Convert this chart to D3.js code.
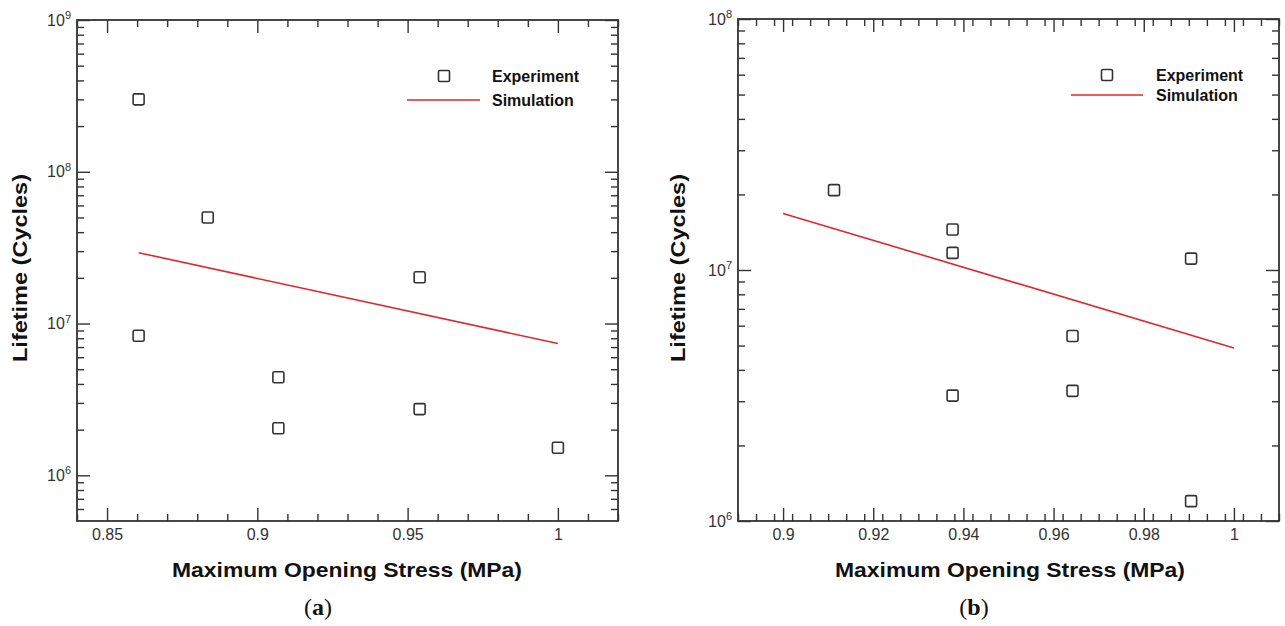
<!DOCTYPE html>
<html lang="en">
<head>
    <meta charset="UTF-8">
    <title>Lifetime vs Maximum Opening Stress</title>
    <script src="https://d3js.org/d3.v7.min.js"></script>
    <style>
        body { margin: 0; background: #fff; }
        svg { font-family: "Liberation Sans", Arial, sans-serif; }
        .axis-title { font-size: 21px; font-weight: bold; fill: #111; }
        .legend-text { font-size: 16px; font-weight: bold; fill: #111; }
        .caption { font-family: "Liberation Serif", "DejaVu Serif", serif; font-size: 24px; fill: #111; }
    </style>
</head>
<body>
<div id="chart"></div>
<script>
    // Panel (a)
    const stressA = [0.8605, 0.8605, 0.8835, 0.907, 0.907, 0.954, 0.954, 1.0];
    const lifeA = [3.0e8, 8.3e6, 5.0e7, 4.43e6, 2.04e6, 2.02e7, 2.73e6, 1.52e6];
    const simStressA = [0.8605, 1.0];
    const simLifeA = [2.93e7, 7.38e6];
    const xTicksA = [0.85, 0.9, 0.95, 1];

    // Panel (b)
    const stressB = [0.9113, 0.9376, 0.9376, 0.9376, 0.9642, 0.9642, 0.9905, 0.9905];
    const lifeB = [2.08e7, 1.45e7, 1.17e7, 3.16e6, 5.46e6, 3.30e6, 1.11e7, 1.20e6];
    const simStressB = [0.9, 1.0];
    const simLifeB = [1.68e7, 4.89e6];
    const xTicksB = [0.9, 0.92, 0.94, 0.96, 0.98, 1];

    const width = 1285, height = 626;
    const svg = d3.select("#chart").append("svg")
        .attr("width", width)
        .attr("height", height);

    const frameColor = "#333";
    const simColor = "#e3262b";

    function supLabel(sel) {
        sel.each(function(d) {
            const t = d3.select(this);
            t.text(null);
            t.append("tspan").text("10");
            t.append("tspan")
                .attr("dy", "-0.6em")
                .attr("font-size", 11)
                .text(Math.round(Math.log10(d)));
        });
    }

    function drawPanel(cfg) {
        const x = d3.scaleLinear().domain(cfg.xDomain).range([cfg.left, cfg.right]);
        const y = d3.scaleLog().domain(cfg.yDomain).range([cfg.bottom, cfg.top]);
        const g = svg.append("g");

        // minor tick values
        const yMinor = [];
        for (let e = 5; e <= 9; e++) {
            for (let k = 2; k <= 9; k++) {
                const v = k * Math.pow(10, e);
                if (v > cfg.yDomain[0] && v < cfg.yDomain[1]) yMinor.push(v);
            }
        }
        const yMajor = [1e5, 1e6, 1e7, 1e8, 1e9].filter(v => v >= cfg.yDomain[0] && v <= cfg.yDomain[1]);
        const xMinor = d3.range(cfg.xDomain[0], cfg.xDomain[1] + 1e-9, cfg.xMinorStep)
            .filter(v => !cfg.xTicks.some(t => Math.abs(t - v) < 1e-6));

        // bottom and top axes
        g.append("g").attr("transform", `translate(0,${cfg.bottom})`)
            .call(d3.axisBottom(x).tickValues(xMinor).tickSize(-7).tickFormat(""));
        g.append("g").attr("transform", `translate(0,${cfg.bottom})`)
            .call(d3.axisBottom(x).tickValues(cfg.xTicks).tickSize(-13).tickPadding(8).tickFormat(d3.format("")));
        g.append("g").attr("transform", `translate(0,${cfg.top})`)
            .call(d3.axisTop(x).tickValues(xMinor).tickSize(-7).tickFormat(""));
        g.append("g").attr("transform", `translate(0,${cfg.top})`)
            .call(d3.axisTop(x).tickValues(cfg.xTicks).tickSize(-13).tickFormat(""));

        // left and right axes
        g.append("g").attr("transform", `translate(${cfg.left},0)`)
            .call(d3.axisLeft(y).tickValues(yMinor).tickSize(-7).tickFormat(""));
        g.append("g").attr("transform", `translate(${cfg.left},0)`)
            .call(d3.axisLeft(y).tickValues(yMajor).tickSize(-13).tickPadding(6))
            .selectAll(".tick text").call(supLabel);
        g.append("g").attr("transform", `translate(${cfg.right},0)`)
            .call(d3.axisRight(y).tickValues(yMinor).tickSize(-7).tickFormat(""));
        g.append("g").attr("transform", `translate(${cfg.right},0)`)
            .call(d3.axisRight(y).tickValues(yMajor).tickSize(-13).tickFormat(""));

        g.selectAll(".domain").remove();
        g.selectAll(".tick line").attr("stroke", frameColor).attr("stroke-width", 1.4);
        g.selectAll("g[font-size]")
            .attr("font-size", 16)
            .attr("font-family", "'Liberation Sans', Arial, sans-serif");
        g.selectAll(".tick text").attr("fill", "#333");

        // frame
        g.append("rect")
            .attr("x", cfg.left).attr("y", cfg.top)
            .attr("width", cfg.right - cfg.left).attr("height", cfg.bottom - cfg.top)
            .attr("fill", "none").attr("stroke", frameColor).attr("stroke-width", 1.8);

        // simulation line
        const line = d3.line().x(d => x(d[0])).y(d => y(d[1]));
        g.append("path")
            .datum(d3.zip(cfg.simX, cfg.simY))
            .attr("d", line)
            .attr("fill", "none").attr("stroke", simColor).attr("stroke-width", 1.6);

        // experiment squares
        const s = 11;
        g.selectAll("rect.exp")
            .data(d3.zip(cfg.expX, cfg.expY))
            .join("rect")
            .attr("class", "exp")
            .attr("x", d => x(d[0]) - s / 2)
            .attr("y", d => y(d[1]) - s / 2)
            .attr("width", s).attr("height", s).attr("rx", 1.5)
            .attr("fill", "none").attr("stroke", frameColor).attr("stroke-width", 1.6);

        // legend
        const lg = cfg.legend;
        g.append("rect")
            .attr("x", lg.sqX - s / 2).attr("y", lg.y1 - s / 2)
            .attr("width", s).attr("height", s).attr("rx", 1.5)
            .attr("fill", "none").attr("stroke", frameColor).attr("stroke-width", 1.6);
        g.append("line")
            .attr("x1", lg.lineX[0]).attr("x2", lg.lineX[1])
            .attr("y1", lg.y2).attr("y2", lg.y2)
            .attr("stroke", simColor).attr("stroke-width", 1.6);
        g.append("text").attr("class", "legend-text")
            .attr("x", lg.textX).attr("y", lg.y1).attr("dy", "0.35em").text("Experiment");
        g.append("text").attr("class", "legend-text")
            .attr("x", lg.textX).attr("y", lg.y2).attr("dy", "0.35em").text("Simulation");

        // axis titles
        g.append("text").attr("class", "axis-title")
            .attr("text-anchor", "middle")
            .attr("x", cfg.xTitleX).attr("y", 577)
            .attr("textLength", 350).attr("lengthAdjust", "spacingAndGlyphs")
            .text("Maximum Opening Stress (MPa)");
        g.append("text").attr("class", "axis-title")
            .attr("text-anchor", "middle")
            .attr("transform", `translate(${cfg.yTitleX},268) rotate(-90)`)
            .attr("textLength", 188).attr("lengthAdjust", "spacingAndGlyphs")
            .text("Lifetime (Cycles)");

        // caption
        const cap = g.append("text").attr("class", "caption")
            .attr("text-anchor", "middle")
            .attr("x", cfg.capX).attr("y", 615);
        cap.append("tspan").text("(");
        cap.append("tspan").style("font-weight", "bold").text(cfg.capLetter);
        cap.append("tspan").text(")");
    }

    drawPanel({
        left: 77, right: 618, top: 20, bottom: 521,
        xDomain: [0.84, 1.02], yDomain: [5e5, 1e9],
        xTicks: xTicksA, xMinorStep: 0.01,
        expX: stressA, expY: lifeA, simX: simStressA, simY: simLifeA,
        legend: { sqX: 444, textX: 492, y1: 76, y2: 100, lineX: [407, 480] },
        xTitleX: 347, yTitleX: 27, capX: 318, capLetter: "a"
    });

    drawPanel({
        left: 738, right: 1279, top: 19, bottom: 521,
        xDomain: [0.89, 1.01], yDomain: [1e6, 1e8],
        xTicks: xTicksB, xMinorStep: 0.004,
        expX: stressB, expY: lifeB, simX: simStressB, simY: simLifeB,
        legend: { sqX: 1107, textX: 1156, y1: 75, y2: 95, lineX: [1071, 1143] },
        xTitleX: 1010, yTitleX: 685, capX: 974, capLetter: "b"
    });
</script>
</body>
</html>
